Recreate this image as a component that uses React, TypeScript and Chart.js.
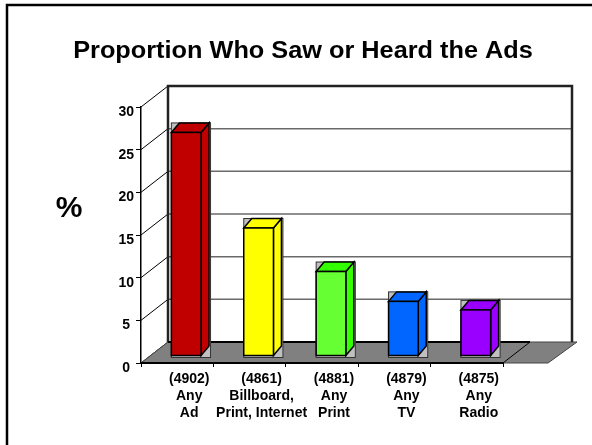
import React, { useEffect, useRef } from "react";
import { Chart, registerables } from "chart.js";

Chart.register(...registerables);

const TITLE = "Proportion Who Saw or Heard the Ads";
const Y_LABEL = "%";
const sampleSizes = ["(4902)", "(4861)", "(4881)", "(4879)", "(4875)"];
const categoryNames = [
  ["Any", "Ad"],
  ["Billboard,", "Print, Internet"],
  ["Any", "Print"],
  ["Any", "TV"],
  ["Any", "Radio"],
];
const percentValues = [26.2, 15, 9.9, 6.4, 5.4];
const frontColors = ["#C00000", "#FFFF00", "#66FF33", "#0066FF", "#9900FF"];
const sideColors = ["#C00000", "#FFFF00", "#33FF00", "#0066FF", "#9900FF"];
const yMin = 0;
const yMax = 30;
const yStep = 5;

const FONT = '"Liberation Sans", Arial, Helvetica, sans-serif';

// 3D look (styling, not data)
const DEPTH_X = 27;
const DEPTH_Y = -21;
const FLOOR_EXT = 45;
const WALL_EXT = 69;
const BAR_SHIFT_X = 9;
const BAR_SHIFT_Y = -7;
const BAR_DX = 8;
const BAR_DY = -9.5;
const BOX_EXTRA = 1.5;

const scenePlugin = {
  id: "scene3d",
  beforeDraw(chart: any) {
    const ctx = chart.ctx as CanvasRenderingContext2D;
    const { left, right, top, bottom } = chart.chartArea;
    const ys = chart.scales.y;
    ctx.save();
    ctx.fillStyle = "#fff";
    ctx.fillRect(0, 0, chart.width, chart.height);

    // outer frame
    ctx.strokeStyle = "#000";
    ctx.lineWidth = 2.5;
    ctx.strokeRect(7, 5, chart.width + 20, chart.height + 20);

    const wl = left + DEPTH_X;
    const wr = right + WALL_EXT;
    const wt = top + DEPTH_Y;
    const wb = bottom + DEPTH_Y;

    // back wall
    ctx.fillStyle = "#fff";
    ctx.fillRect(wl, wt, wr - wl, wb - wt);

    // back gridlines
    ctx.strokeStyle = "#6a6a6a";
    ctx.lineWidth = 1.5;
    for (let v = yMin + yStep; v < yMax; v += yStep) {
      const py = ys.getPixelForValue(v) + DEPTH_Y;
      ctx.beginPath();
      ctx.moveTo(wl, py);
      ctx.lineTo(wr, py);
      ctx.stroke();
    }

    // side wall diagonals
    ctx.strokeStyle = "#000";
    ctx.lineWidth = 1;
    for (let v = yMin; v <= yMax; v += yStep) {
      const py = ys.getPixelForValue(v);
      ctx.beginPath();
      ctx.moveTo(left, py);
      ctx.lineTo(left + DEPTH_X, py + DEPTH_Y);
      ctx.stroke();
    }

    // floor
    const fr = right + FLOOR_EXT;
    ctx.fillStyle = "#808080";
    ctx.beginPath();
    ctx.moveTo(left, bottom);
    ctx.lineTo(fr, bottom);
    ctx.lineTo(fr + DEPTH_X + 2, bottom + DEPTH_Y);
    ctx.lineTo(left + DEPTH_X, bottom + DEPTH_Y);
    ctx.closePath();
    ctx.fill();
    ctx.strokeStyle = "#444";
    ctx.lineWidth = 1;
    ctx.stroke();
    ctx.strokeStyle = "#000";
    ctx.beginPath();
    ctx.moveTo(right, bottom);
    ctx.lineTo(right + DEPTH_X, bottom + DEPTH_Y);
    ctx.stroke();

    // back wall edges
    ctx.strokeStyle = "#222";
    ctx.lineWidth = 2.5;
    ctx.beginPath();
    ctx.moveTo(wl, wb);
    ctx.lineTo(wl, wt);
    ctx.lineTo(wr, wt);
    ctx.lineTo(wr, wb);
    ctx.stroke();
    ctx.lineWidth = 2;
    ctx.strokeStyle = "#000";
    ctx.beginPath();
    ctx.moveTo(wl, wb);
    ctx.lineTo(right + DEPTH_X, wb);
    ctx.stroke();

    // title
    ctx.fillStyle = "#000";
    ctx.font = `bold 23px ${FONT}`;
    ctx.textAlign = "center";
    ctx.textBaseline = "alphabetic";
    ctx.translate(303, 58);
    ctx.scale(1.1, 1);
    ctx.fillText(TITLE, 0, 0);
    ctx.restore();

    // % label
    ctx.save();
    ctx.fillStyle = "#000";
    ctx.font = `bold 30px ${FONT}`;
    ctx.textAlign = "center";
    ctx.textBaseline = "middle";
    ctx.fillText(Y_LABEL, 69, 209);
    ctx.restore();
  },
  afterDatasetsDraw(chart: any) {
    const ctx = chart.ctx as CanvasRenderingContext2D;
    const meta = chart.getDatasetMeta(0);
    meta.data.forEach((bar: any, i: number) => {
      const { x, y, base, width } = bar.getProps(["x", "y", "base", "width"], true);
      const fx0 = x - width / 2 + BAR_SHIFT_X;
      const fx1 = fx0 + width;
      const fy0 = y + BAR_SHIFT_Y;
      const fy1 = base + BAR_SHIFT_Y;
      ctx.save();
      ctx.lineJoin = "miter";
      // gray bounding box
      ctx.fillStyle = "#C0C0C0";
      ctx.strokeStyle = "#333";
      ctx.lineWidth = 1;
      const bw = width + BAR_DX + BOX_EXTRA;
      const bh = fy1 - fy0 - BAR_DY + 2;
      ctx.fillRect(fx0, fy0 + BAR_DY, bw, bh);
      ctx.strokeRect(fx0, fy0 + BAR_DY, bw, bh);
      ctx.strokeStyle = "#000";
      ctx.lineWidth = 1.5;
      // side face
      ctx.fillStyle = sideColors[i];
      ctx.beginPath();
      ctx.moveTo(fx1, fy1);
      ctx.lineTo(fx1 + BAR_DX, fy1 + BAR_DY);
      ctx.lineTo(fx1 + BAR_DX, fy0 + BAR_DY);
      ctx.lineTo(fx1, fy0);
      ctx.closePath();
      ctx.fill();
      ctx.stroke();
      // top face
      ctx.fillStyle = sideColors[i];
      ctx.beginPath();
      ctx.moveTo(fx0, fy0);
      ctx.lineTo(fx0 + BAR_DX, fy0 + BAR_DY);
      ctx.lineTo(fx1 + BAR_DX, fy0 + BAR_DY);
      ctx.lineTo(fx1, fy0);
      ctx.closePath();
      ctx.fill();
      ctx.stroke();
      // front face
      ctx.fillStyle = frontColors[i];
      ctx.fillRect(fx0, fy0, width, fy1 - fy0);
      ctx.strokeRect(fx0, fy0, width, fy1 - fy0);
      ctx.restore();
    });
  },
};

export default function App() {
  const ref = useRef<HTMLCanvasElement>(null);
  useEffect(() => {
    if (!ref.current) return;
    const chart = new Chart(ref.current, {
      type: "bar",
      data: {
        labels: sampleSizes.map((s, i) => [s, ...categoryNames[i]]),
        datasets: [
          {
            data: percentValues,
            backgroundColor: "rgba(0,0,0,0)",
            borderWidth: 0,
            barPercentage: 0.41,
            categoryPercentage: 1,
          },
        ],
      },
      options: {
        responsive: false,
        animation: false,
        events: [],
        layout: { padding: { left: 0, right: 89, top: 107, bottom: 0 } },
        plugins: { legend: { display: false }, tooltip: { enabled: false }, title: { display: false } },
        scales: {
          x: {
            type: "category",
            offset: true,
            grid: { offset: true, drawOnChartArea: false, drawTicks: true, tickLength: 4, color: "#000", lineWidth: 1 },
            border: { display: true, color: "#000", width: 2 },
            ticks: {
              color: "#000",
              font: { family: FONT, size: 14, weight: "bold", lineHeight: 1.2 },
              padding: 4,
              labelOffset: 12,
              maxRotation: 0,
              minRotation: 0,
              autoSkip: false,
            },
            afterFit: (s: any) => {
              s.height = 82;
            },
          },
          y: {
            min: yMin,
            max: yMax,
            grid: { drawOnChartArea: false, drawTicks: true, tickLength: 5, color: "#000", lineWidth: 1 },
            border: { display: true, color: "#000", width: 1.5 },
            ticks: {
              stepSize: yStep,
              color: "#000",
              font: { family: FONT, size: 14, weight: "bold" },
              crossAlign: "center",
              padding: 2,
              labelOffset: 5,
            },
            afterFit: (s: any) => {
              s.width = 141;
            },
          },
        },
      },
      plugins: [scenePlugin],
    });
    return () => chart.destroy();
  }, []);
  return (
    <div style={{ position: "fixed", left: 0, top: 0, width: 592, height: 445, background: "#fff" }}>
      <canvas ref={ref} width={592} height={445} style={{ display: "block" }} />
    </div>
  );
}
